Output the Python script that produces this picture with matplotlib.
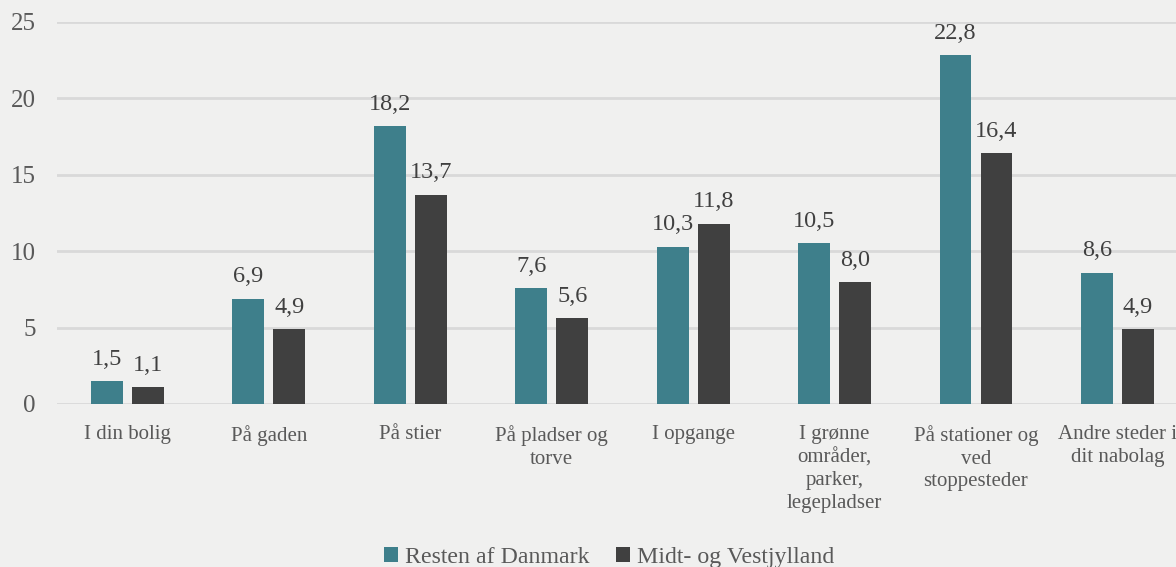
import matplotlib.pyplot as plt
import numpy as np

categories = ["I din bolig", "På gaden", "På stier", "På pladser og\ntorve",
              "I opgange", "I grønne\nområder,\nparker,\nlegepladser",
              "På stationer og\nved\nstoppesteder", "Andre steder i\ndit nabolag"]
resten = [1.5, 6.9, 18.2, 7.6, 10.3, 10.5, 22.8, 8.6]
midt_vest = [1.1, 4.9, 13.7, 5.6, 11.8, 8.0, 16.4, 4.9]
series_names = ["Resten af Danmark", "Midt- og Vestjylland"]
yticks = [0, 5, 10, 15, 20, 25]

bg = "#f0f0ef"
teal = "#3e7f8b"
dark = "#404040"

plt.rcParams['font.family'] = ['Liberation Serif', 'DejaVu Serif']

fig = plt.figure(figsize=(11.76, 5.67), dpi=100, facecolor=bg)
ax = fig.add_axes([0.0483, 0.2875, 0.962, 0.674])
ax.set_facecolor(bg)

x = np.arange(len(categories))
w = 0.226
off = 0.145
b1 = ax.bar(x - off, resten, w, color=teal, label=series_names[0], zorder=3)
b2 = ax.bar(x + off, midt_vest, w, color=dark, label=series_names[1], zorder=3)

def fmt(v):
    return f"{v:.1f}".replace(".", ",")

for bars, vals in ((b1, resten), (b2, midt_vest)):
    for r, v in zip(bars, vals):
        ax.annotate(fmt(v), (r.get_x() + r.get_width() / 2, v),
                    xytext=(0, 8), textcoords="offset points",
                    ha="center", va="bottom", fontsize=17.5, color="#404040")

ax.set_xlim(-0.5, len(categories) - 0.5)
ax.set_ylim(0, 25)
ax.set_yticks(yticks)
ax.set_yticklabels([str(t) for t in yticks], fontsize=18, color="#595959")
ax.set_xticks(x)
ax.set_xticklabels(categories, fontsize=15, color="#595959", linespacing=1.27)
ax.tick_params(axis="both", length=0)
ax.tick_params(axis="y", pad=15)
ax.tick_params(axis="x", pad=15)
ax.grid(axis="y", color="#d9d9d9", linewidth=2, zorder=0)
for s in ax.spines.values():
    s.set_visible(False)

fig.legend(handles=[b1, b2], labels=series_names, loc="center",
           bbox_to_anchor=(0.518, 0.017), ncol=2, frameon=False,
           fontsize=17.2, labelcolor="#595959", handlelength=0.6,
           handleheight=0.6, handletextpad=0.3, columnspacing=1.1)

fig.savefig("out.png", dpi=100, facecolor=bg)
